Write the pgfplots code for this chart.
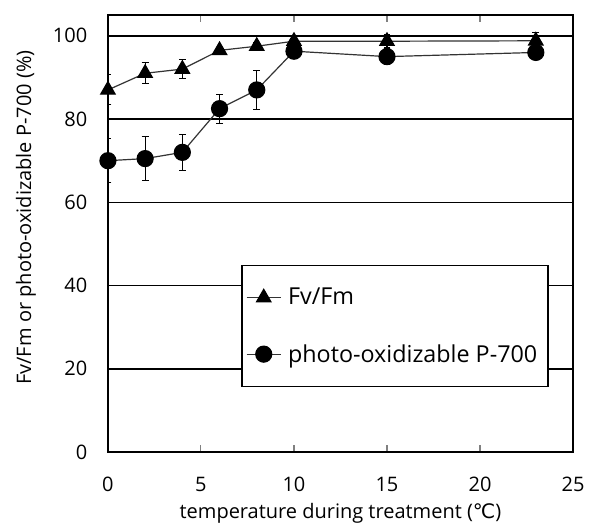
\documentclass[border=0pt]{standalone}
\usepackage{fontspec}
\setmainfont{Open Sans}
\newfontfamily\symfont{DejaVu Sans}
\usepackage{pgfplots}
\pgfplotsset{compat=1.18}

\pgfplotstableread{
x y ey
0 87 3.6
2 91 2.5
4 92 2.2
6 96.5 0.8
8 97.5 0.8
10 98.7 1.2
15 98.7 1.5
23 98.8 2.0
}\fvfm

\pgfplotstableread{
x y ey
0 70 5.3
2 70.5 5.2
4 72 4.4
6 82.5 3.5
8 87 4.6
10 96.3 1.5
15 95 2.0
23 96 1.5
}\psi

\begin{document}
\begin{tikzpicture}
\begin{axis}[
    name=ax,
    scale only axis,
    width=349pt, height=328pt,
    xmin=0, xmax=25, ymin=0, ymax=105,
    xtick={0,5,...,25}, ytick={0,20,...,100},
    axis line style={line width=1pt},
    ymajorgrids, grid style={black, line width=1.1pt},
    ytick style={draw=none},
    xtick style={line width=0.8pt},
    major tick length=5pt,
    /pgf/number format/assume math mode=true,
    tick label style={font=\fontsize{15}{18}\selectfont},
    xticklabel style={yshift=-15pt},
    yticklabel style={xshift=-12pt},
    xlabel={temperature during treatment ({\symfont ℃})},
    ylabel={Fv/Fm or photo-oxidizable P-700 (\%)},
    label style={font=\fontsize{15}{18}\selectfont},
    xlabel style={yshift=-2pt},
    ylabel style={yshift=6pt, xshift=12pt},
    legend style={at={(0.287,0.428)}, anchor=north west, draw=black,
        line width=1pt, fill=white, font=\fontsize{17.5}{21}\selectfont,
        inner xsep=3pt, inner ysep=15pt, row sep=24pt,
        nodes={inner xsep=5pt}},
    legend cell align=left,
    legend image code/.code={\draw[#1, mark repeat=2, mark phase=2]
        plot coordinates {(0cm,0cm) (0.45cm,0cm) (0.9cm,0cm)};},
]
\addplot[black!80, line width=0.9pt, mark=triangle*,
    mark options={black, mark size=6.2pt},
    error bars/.cd, y dir=both, y explicit,
    error bar style={black, line width=0.8pt},
    error mark options={rotate=90, mark size=2.6pt, line width=0.8pt}]
    table[x=x, y=y, y error=ey] {\fvfm};
\addlegendentry{Fv/Fm}
\addplot[black!80, line width=0.9pt, mark=*,
    mark options={black, mark size=6pt},
    error bars/.cd, y dir=both, y explicit,
    error bar style={black, line width=0.8pt},
    error mark options={rotate=90, mark size=2.6pt, line width=0.8pt}]
    table[x=x, y=y, y error=ey] {\psi};
\addlegendentry{photo-oxidizable P-700}
\end{axis}
\pgfresetboundingbox
\path ([xshift=-81pt,yshift=-57pt]ax.south west) rectangle ([xshift=13.5pt,yshift=11.25pt]ax.north east);
\end{tikzpicture}
\end{document}
